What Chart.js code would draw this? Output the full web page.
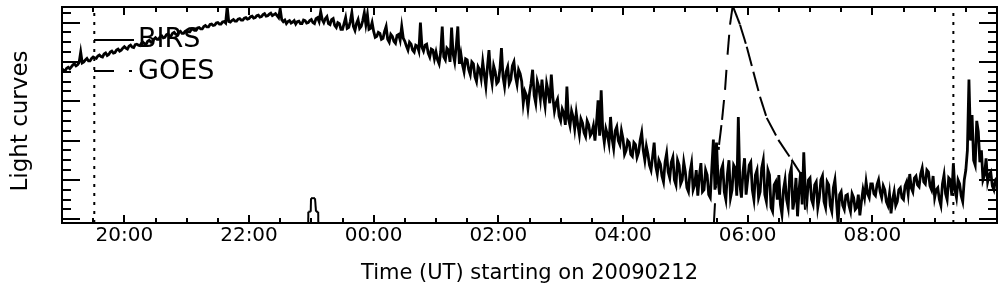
<!DOCTYPE html>
<html>
<head>
<meta charset="utf-8">
<script src="https://cdn.jsdelivr.net/npm/chart.js@4.4.1/dist/chart.umd.min.js"></script>
<style>
html,body{margin:0;padding:0;background:#fff;}
canvas{display:block;}
</style>
</head>
<body>
<canvas id="c" width="1004" height="296"></canvas>
<script>
// ---- data (time in hours since 2009-02-12 00:00 UT; values in arbitrary units) ----
const X_MIN = 19, X_MAX = 34;
const xTickHours = [20, 22, 24, 26, 28, 30, 32];
const xTickLabels = ['20:00', '22:00', '00:00', '02:00', '04:00', '06:00', '08:00'];
const xMinorStep = 0.5;
const Y_MIN = -3.8, Y_MAX = 215.8;
const yMajorTicks = [0, 40, 80, 120, 160, 200];
const yMinorStep = 10;
const xTitle = 'Time (UT) starting on 20090212';
const yTitle = 'Light curves';

// BIRS: readings every 3 min (A) and the readings in between (B, offset by 1.5 min)
const birsStart = 19.0;
const birsStep = 0.05;
const birsValuesA = [
  153, 151, 154.5, 155, 158, 157, 170, 160, 163.5, 161,
  165, 163.5, 167, 165, 169, 167.5, 171, 169.5, 173, 172,
  175.5, 173, 177, 174.5, 178, 176.5, 180, 178, 182, 180.5,
  184.5, 183, 186.5, 185, 188.5, 186.5, 190, 187.5, 191, 189,
  192, 190.5, 193.5, 192, 195, 193.5, 197, 195.5, 198.5, 197.5,
  200, 198.5, 201, 216, 200.5, 203, 201.5, 204, 202.5, 205,
  204, 206.5, 205, 207.5, 206, 209, 207, 209.5, 208, 207,
  214, 201, 199, 202, 200.5, 198.5, 201.5, 199, 202, 200,
  203, 199, 205, 211, 200, 206, 198, 204, 195, 199,
  193, 205, 195, 210, 192, 203, 196, 210, 208, 194,
  191, 186, 189, 184, 196, 180, 186, 179, 188, 196,
  181, 172, 178, 170, 176, 200, 171, 178, 165, 172,
  170, 158, 196, 162, 172, 195, 160, 196, 168, 150,
  162, 147, 158, 140, 152, 160, 135, 172, 138, 150,
  140, 174, 135, 155, 142, 160, 137, 148, 118, 126,
  128, 152, 118, 134, 142, 115, 130, 147, 110, 122,
  100, 108, 135, 95, 104, 108, 86, 98, 84, 96,
  88, 80, 121, 131, 78, 86, 104, 72, 94, 76,
  82, 70, 78, 64, 76, 68, 88, 60, 66, 50,
  78, 46, 56, 38, 67, 42, 63, 35, 55, 40,
  48, 28, 57, 35, 24, 57, 30, 45, 22, 81,
  78, 25, 55, 20, 60, 30, 52, 104, 22, 62,
  40, 58, 20, 50, 28, 60, 18, 45, 8, 38,
  45, 5, 40, 12, 52, 20, 3, 48, 68, 18,
  42, 15, 38, 22, 44, 12, 35, 8, 40, -4,
  28, 10, 25, 8, 22, 12, 4, 30, 38, 22,
  36, 24, 40, 22, 30, 14, 6, 28, 18, 32,
  20, 38, 46, 28, 44, 33, 52, 36, 48, 30,
  22, 32, 14, 45, 20, 40, 57, 22, 36, 18,
  50, 142, 106, 55, 89, 70, 45, 38, 48, 30, 42
];
const birsValuesB = [
  151.5, 153.5, 153, 157, 156, 159.5, 159, 162, 161, 163.5,
  164, 166, 165.5, 168, 166.5, 170, 169, 172, 171, 174,
  174, 176, 175, 177.5, 177, 179, 178.5, 181, 180, 183,
  183, 185.5, 184.5, 187.5, 186, 189, 188, 190, 189, 191,
  190.5, 193, 192, 194.5, 193.5, 196, 195.5, 198, 197, 199.5,
  198.5, 200.5, 199.5, 201, 202, 201.5, 203.5, 202.5, 204.5, 203.5,
  206, 204.5, 207, 205.5, 208, 206.5, 208.5, 207, 209, 205,
  203, 202.5, 201, 199.5, 202, 201, 199, 202.5, 199.5, 202,
  200, 204, 201, 203, 204, 199, 203, 197, 200, 193,
  199, 194, 201, 196, 199, 194, 202, 198, 193, 200,
  185, 190, 183, 191, 183, 188, 181, 187, 182, 184,
  176, 180, 172, 177, 171, 175, 177, 169, 173, 163,
  162, 170, 165, 174, 160, 168, 176, 158, 157, 163,
  152, 160, 145, 155, 143, 147, 155, 148, 156, 138,
  152, 145, 150, 138, 156, 145, 152, 140, 130, 113,
  138, 126, 140, 122, 125, 138, 118, 124, 118, 105,
  112, 96, 102, 110, 92, 96, 102, 88, 100, 85,
  95, 98, 85, 90, 92, 77, 82, 90, 80, 90,
  66, 80, 66, 78, 63, 80, 70, 74, 55, 64,
  54, 60, 44, 58, 48, 58, 40, 60, 36, 58,
  32, 48, 30, 50, 44, 28, 50, 25, 52, 30,
  40, 50, 28, 46, 22, 55, 24, 35, 48, 25,
  55, 30, 45, 22, 52, 25, 50, 12, 35, 20,
  15, 30, 20, 45, 10, 42, 30, 15, 30, 40,
  20, 35, 12, 40, 18, 38, 14, 32, 18, 25,
  14, 24, 14, 26, 10, 25, 18, 22, 26, 36,
  26, 35, 28, 34, 18, 26, 20, 14, 30, 22,
  34, 26, 32, 42, 35, 46, 38, 50, 34, 44,
  30, 20, 36, 26, 42, 24, 30, 40, 24, 40,
  70, 80, 60, 100, 58, 40, 62, 45, 34, 40
];

const goesTimes = [
  19.0, 22.93, 22.95, 22.952, 22.99, 22.995, 23.059, 23.075, 23.11, 23.112, 23.13,
  29.43, 29.458, 29.492, 29.541, 29.589, 29.637, 29.677, 29.717, 29.760,
  29.877, 29.985, 30.091, 30.198, 30.306, 30.492, 30.707, 30.840,
  30.90, 30.95, 34.0
];
const goesValues = [
  -20, -20, -4, 7.7, 7.7, 21.4, 21.4, 7.7, 7.7, -4, -20,
  -20, -4, 35, 75.6, 101, 131.6, 167.3, 197.8, 217,
  197.8, 175.4, 150, 124.5, 103.1, 80.7, 60.4, 47.2,
  30, -20, -20
];

const markerTimes = [19.518, 33.30];

// ---- build datasets ----
const birsData = [];
birsValuesA.forEach((v, i) => {
  birsData.push({x: birsStart + i * birsStep, y: v});
  if (i < birsValuesB.length) birsData.push({x: birsStart + (i + 0.5) * birsStep, y: birsValuesB[i]});
});
const goesData = goesTimes.map((t, i) => ({x: t, y: goesValues[i]}));

const datasets = [
  {label: 'BIRS', data: birsData, borderColor: '#000', borderWidth: 2.8, pointRadius: 0, clip: 0, order: 1},
  {label: 'GOES', data: goesData, borderColor: '#000', borderWidth: 2, borderDash: [20, 15, 3, 15],
   pointRadius: 0, clip: 0, order: 2,
   // dash pattern restarts at every sample, as in the original plot
   segment: {borderDashOffset: c => (c.p0DataIndex % 2) * 1e-6}}
];
markerTimes.forEach(t => datasets.push({
  label: 'marker', data: [{x: t, y: Y_MIN}, {x: t, y: Y_MAX}],
  borderColor: '#000', borderWidth: 2, borderDash: [3, 6], pointRadius: 0, clip: 0, order: 3
}));

const FONT = 'DejaVu Sans';

const axesFrame = {
  id: 'axesFrame',
  afterDatasetsDraw(chart) {
    const {ctx, chartArea: a, scales} = chart;
    const xs = scales.x, ys = scales.y;
    ctx.save();
    ctx.strokeStyle = '#000';
    ctx.lineWidth = 2;
    ctx.setLineDash([]);
    ctx.beginPath();
    ctx.rect(a.left, a.top, a.right - a.left, a.bottom - a.top);
    ctx.stroke();
    ctx.beginPath();
    for (let h = X_MIN + xMinorStep; h < X_MAX - 1e-9; h += xMinorStep) {
      const px = Math.round(xs.getPixelForValue(h));
      const len = xTickHours.includes(h) ? 8 : 5;
      ctx.moveTo(px, a.bottom); ctx.lineTo(px, a.bottom - len);
      ctx.moveTo(px, a.top); ctx.lineTo(px, a.top + len);
    }
    for (let v = 0; v <= Y_MAX; v += yMinorStep) {
      const py = Math.round(ys.getPixelForValue(v));
      const len = yMajorTicks.includes(v) ? 18 : 9;
      ctx.moveTo(a.left, py); ctx.lineTo(a.left + len, py);
      ctx.moveTo(a.right, py); ctx.lineTo(a.right - len, py);
    }
    ctx.stroke();
    ctx.restore();
  }
};

const legendInside = {
  id: 'legendInside',
  afterDatasetsDraw(chart) {
    const ctx = chart.ctx;
    const rows = [{i: 0, y: 40, base: 47}, {i: 1, y: 71, base: 79}];
    ctx.save();
    ctx.font = '27px "' + FONT + '"';
    ctx.fillStyle = '#000';
    ctx.strokeStyle = '#000';
    rows.forEach(r => {
      const ds = chart.data.datasets[r.i];
      ctx.lineWidth = 2;
      ctx.setLineDash(ds.borderDash || []);
      ctx.lineDashOffset = 0;
      ctx.beginPath(); ctx.moveTo(94, r.y); ctx.lineTo(134, r.y); ctx.stroke();
      ctx.setLineDash([]);
      ctx.textBaseline = 'alphabetic';
      ctx.textAlign = 'left';
      ctx.fillText(ds.label, 138, r.base);
    });
    ctx.restore();
  }
};

const yTitlePlugin = {
  id: 'yTitlePlugin',
  afterDraw(chart) {
    const ctx = chart.ctx;
    ctx.save();
    ctx.translate(21, 121);
    ctx.rotate(-Math.PI / 2);
    ctx.font = '23px "' + FONT + '"';
    ctx.fillStyle = '#000';
    ctx.textAlign = 'center';
    ctx.textBaseline = 'middle';
    ctx.fillText(yTitle, 0, 0);
    ctx.restore();
  }
};

new Chart(document.getElementById('c'), {
  type: 'line',
  data: {datasets},
  options: {
    responsive: false,
    animation: false,
    devicePixelRatio: 1,
    layout: {padding: {top: 7, right: 7, bottom: 0, left: 0}},
    plugins: {legend: {display: false}, tooltip: {enabled: false}},
    elements: {point: {radius: 0}, line: {tension: 0}},
    scales: {
      x: {
        type: 'linear', min: X_MIN, max: X_MAX,
        grid: {display: false, drawTicks: false},
        border: {display: false},
        afterBuildTicks: s => { s.ticks = xTickHours.map(v => ({value: v})); },
        afterFit: s => { s.height = 73; },
        ticks: {
          autoSkip: false, maxRotation: 0, padding: 1, color: '#000',
          font: {family: FONT, size: 20},
          callback: (v, i) => xTickLabels[i]
        },
        title: {display: true, text: xTitle, color: '#000', font: {family: FONT, size: 21}, padding: {top: 0, bottom: 10}}
      },
      y: {
        type: 'linear', min: Y_MIN, max: Y_MAX,
        grid: {display: false, drawTicks: false},
        border: {display: false},
        ticks: {display: false},
        afterFit: s => { s.width = 62; }
      }
    }
  },
  plugins: [axesFrame, legendInside, yTitlePlugin]
});
</script>
</body>
</html>
